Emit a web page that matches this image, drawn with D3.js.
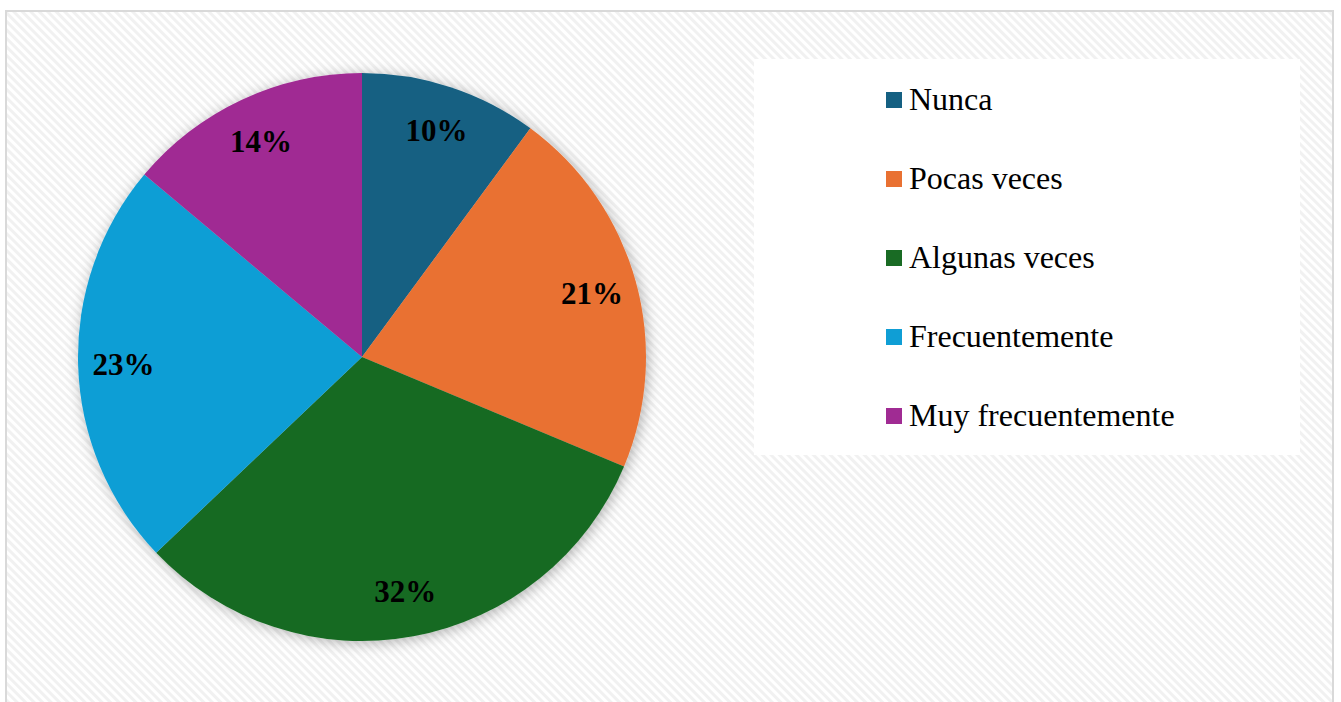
<!DOCTYPE html>
<html>
<head>
<meta charset="utf-8">
<script src="https://cdn.jsdelivr.net/npm/d3@7"></script>
<style>
  body { margin: 0; background: #fff; }
</style>
</head>
<body>
<script>
"use strict";

// data
let categories = ["Nunca", "Pocas veces", "Algunas veces", "Frecuentemente", "Muy frecuentemente"];
let values = [10.1, 21.2, 31.6, 23.2, 13.9];
let colours = ["#156082", "#E97132", "#196B24", "#0F9ED5", "#A02B93"];

let w = 1341, h = 702;
let cx = 362, cy = 357, r = 284;

let svg = d3.select("body").append("svg")
    .attr("width", w)
    .attr("height", h);

let defs = svg.append("defs");

// light downward diagonal background
let pat = defs.append("pattern")
    .attr("id", "diag")
    .attr("width", 6)
    .attr("height", 6)
    .attr("patternUnits", "userSpaceOnUse")
    .attr("patternTransform", "rotate(-45)");
pat.append("rect").attr("width", 6).attr("height", 6).attr("fill", "#fff");
pat.append("rect").attr("width", 3).attr("height", 6).attr("fill", "#f1f1f1");

let shadow = defs.append("filter")
    .attr("id", "shadow")
    .attr("x", "-20%").attr("y", "-20%")
    .attr("width", "140%").attr("height", "140%");
shadow.append("feDropShadow")
    .attr("dx", 2).attr("dy", 2)
    .attr("stdDeviation", 7)
    .attr("flood-color", "#000")
    .attr("flood-opacity", 0.3);

svg.append("rect")
    .attr("x", 6).attr("y", 11)
    .attr("width", 1327).attr("height", h)
    .attr("fill", "url(#diag)")
    .attr("stroke", "#d9d9d9")
    .attr("stroke-width", 2);

//pie
let pie = d3.pie().sort(null).value(function (d) { return d; });
let arcs = pie(values);
let arc = d3.arc().innerRadius(0).outerRadius(r);
let labelArc = d3.arc().innerRadius(r * 0.84).outerRadius(r * 0.84);

let g = svg.append("g").attr("transform", "translate(" + cx + "," + cy + ")");

g.append("g")
    .attr("filter", "url(#shadow)")
    .selectAll("path")
    .data(arcs)
    .enter()
    .append("path")
    .attr("d", arc)
    .attr("fill", function (d, i) { return colours[i]; });

let total = d3.sum(values);
g.selectAll("text")
    .data(arcs)
    .enter()
    .append("text")
    .attr("transform", function (d) { return "translate(" + labelArc.centroid(d) + ")"; })
    .attr("text-anchor", "middle")
    .attr("dy", "0.35em")
    .style("font", "bold 31px 'Liberation Serif', 'Times New Roman', serif")
    .attr("fill", "#000")
    .text(function (d) { return Math.round(d.value / total * 100) + "%"; });

//legend
svg.append("rect")
    .attr("x", 754).attr("y", 59)
    .attr("width", 546).attr("height", 396)
    .attr("fill", "#fff");

let leg = svg.selectAll(".leg")
    .data(categories)
    .enter()
    .append("g")
    .attr("class", "leg")
    .attr("transform", function (d, i) { return "translate(886," + (92 + i * 79) + ")"; });

leg.append("rect")
    .attr("width", 16).attr("height", 16)
    .attr("fill", function (d, i) { return colours[i]; });

leg.append("text")
    .attr("x", 23)
    .attr("y", 18)
    .style("font", "32px 'Liberation Serif', 'Times New Roman', serif")
    .attr("fill", "#000")
    .text(function (d) { return d; });
</script>
</body>
</html>
